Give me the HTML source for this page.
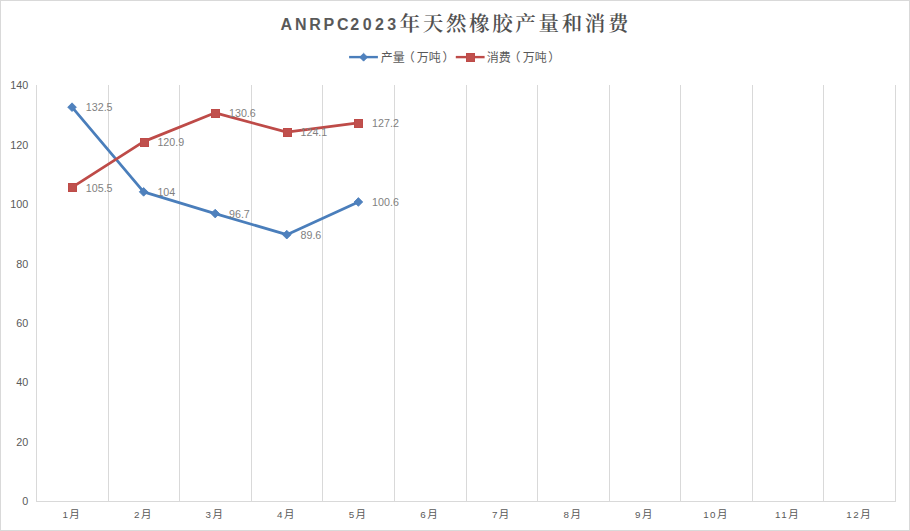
<!DOCTYPE html>
<html lang="zh-CN">
<head>
<meta charset="utf-8">
<title>ANRPC2023年天然橡胶产量和消费</title>
<style>
html,body{margin:0;padding:0;background:#fff;}
body{width:910px;height:531px;overflow:hidden;position:relative;font-family:"Liberation Sans","Noto Sans CJK SC",sans-serif;}
#chart{position:absolute;left:0;top:0;width:910px;height:531px;background:#fff;}
svg{position:absolute;left:0;top:0;}
.t{position:absolute;white-space:nowrap;line-height:1;}
.la{color:#595959;font-weight:bold;font-family:"Liberation Sans",sans-serif;font-size:16px;letter-spacing:2.77px;left:280.6px;top:16.5px;}
.la b{letter-spacing:3.4px;margin-left:-1px;}
.cj{color:#505050;font-weight:600;font-family:"Liberation Serif","Noto Serif CJK SC",serif;font-size:20.5px;letter-spacing:2.65px;left:399.6px;top:13.6px;}
.yl{color:#595959;font-size:10.8px;width:28px;text-align:right;}
.xl{color:#595959;font-size:10.5px;text-align:center;width:60px;}
.xl b{font-weight:normal;font-size:9.8px;letter-spacing:1.45px;}
.dl{color:#7f7f7f;font-size:10.7px;}
.lg{color:#595959;font-size:12px;}
.lg i{font-style:normal;position:relative;}
.lg .po{left:-2.2px;}
.lg .pc{left:1.6px;}
</style>
</head>
<body>
<div id="chart">
<svg width="910" height="531" viewBox="0 0 910 531">
<rect x="0.5" y="0.5" width="909" height="530" fill="none" stroke="#d9d9d9" stroke-width="1"/>
<line x1="36.5" y1="85" x2="36.5" y2="502" stroke="#d9d9d9" stroke-width="1"/>
<line x1="108.5" y1="85" x2="108.5" y2="502" stroke="#d9d9d9" stroke-width="1"/>
<line x1="179.5" y1="85" x2="179.5" y2="502" stroke="#d9d9d9" stroke-width="1"/>
<line x1="251.5" y1="85" x2="251.5" y2="502" stroke="#d9d9d9" stroke-width="1"/>
<line x1="322.5" y1="85" x2="322.5" y2="502" stroke="#d9d9d9" stroke-width="1"/>
<line x1="394.5" y1="85" x2="394.5" y2="502" stroke="#d9d9d9" stroke-width="1"/>
<line x1="466.5" y1="85" x2="466.5" y2="502" stroke="#d9d9d9" stroke-width="1"/>
<line x1="537.5" y1="85" x2="537.5" y2="502" stroke="#d9d9d9" stroke-width="1"/>
<line x1="609.5" y1="85" x2="609.5" y2="502" stroke="#d9d9d9" stroke-width="1"/>
<line x1="680.5" y1="85" x2="680.5" y2="502" stroke="#d9d9d9" stroke-width="1"/>
<line x1="752.5" y1="85" x2="752.5" y2="502" stroke="#d9d9d9" stroke-width="1"/>
<line x1="823.5" y1="85" x2="823.5" y2="502" stroke="#d9d9d9" stroke-width="1"/>
<line x1="895.5" y1="85" x2="895.5" y2="502" stroke="#d9d9d9" stroke-width="1"/>
<line x1="36" y1="501.5" x2="896" y2="501.5" stroke="#d9d9d9" stroke-width="1"/>
<g transform="translate(-0.5,-0.5)">
<polyline points="72.54,107.69 144.12,192.37 215.71,214.06 287.29,235.16 358.88,202.47" fill="none" stroke="#4a7ebb" stroke-width="2.75" stroke-linejoin="round" stroke-linecap="round"/>
<path d="M72.54 103.34L76.89 107.69L72.54 112.04L68.19 107.69Z" fill="#4f81bd" stroke="#4a7ebb" stroke-width="0.8" stroke-linejoin="miter"/>
<path d="M144.12 188.02L148.47 192.37L144.12 196.72L139.78 192.37Z" fill="#4f81bd" stroke="#4a7ebb" stroke-width="0.8" stroke-linejoin="miter"/>
<path d="M215.71 209.71L220.06 214.06L215.71 218.41L211.36 214.06Z" fill="#4f81bd" stroke="#4a7ebb" stroke-width="0.8" stroke-linejoin="miter"/>
<path d="M287.29 230.81L291.64 235.16L287.29 239.51L282.94 235.16Z" fill="#4f81bd" stroke="#4a7ebb" stroke-width="0.8" stroke-linejoin="miter"/>
<path d="M358.88 198.12L363.23 202.47L358.88 206.82L354.52 202.47Z" fill="#4f81bd" stroke="#4a7ebb" stroke-width="0.8" stroke-linejoin="miter"/>
<polyline points="72.54,187.91 144.12,142.15 215.71,113.33 287.29,132.65 358.88,123.43" fill="none" stroke="#be4b48" stroke-width="2.75" stroke-linejoin="round" stroke-linecap="round"/>
</g>
<rect x="68.5" y="183.5" width="8" height="8" fill="#c0504d" stroke="#be4b48" stroke-width="1"/>
<rect x="140.5" y="138.5" width="8" height="8" fill="#c0504d" stroke="#be4b48" stroke-width="1"/>
<rect x="211.5" y="109.5" width="8" height="8" fill="#c0504d" stroke="#be4b48" stroke-width="1"/>
<rect x="283.5" y="128.5" width="8" height="8" fill="#c0504d" stroke="#be4b48" stroke-width="1"/>
<rect x="354.5" y="119.5" width="8" height="8" fill="#c0504d" stroke="#be4b48" stroke-width="1"/>
<line x1="349.1" y1="57.1" x2="377.9" y2="57.1" stroke="#4a7ebb" stroke-width="2.4"/>
<path d="M363.60 53.25L367.55 57.20L363.60 61.15L359.65 57.20Z" fill="#4f81bd" stroke="#4a7ebb" stroke-width="0.8" stroke-linejoin="miter"/>
<line x1="455.8" y1="57.1" x2="484.6" y2="57.1" stroke="#be4b48" stroke-width="2.4"/>
<rect x="466.5" y="53.5" width="8" height="8" fill="#c0504d" stroke="#be4b48" stroke-width="1"/>
</svg>
<div class="t la">ANRPC<b>2023</b></div><div class="t cj">年天然橡胶产量和消费</div>
<div class="t yl" style="left:0.3px;top:496.2px">0</div>
<div class="t yl" style="left:0.3px;top:436.8px">20</div>
<div class="t yl" style="left:0.3px;top:377.3px">40</div>
<div class="t yl" style="left:0.3px;top:317.9px">60</div>
<div class="t yl" style="left:0.3px;top:258.5px">80</div>
<div class="t yl" style="left:0.3px;top:199.1px">100</div>
<div class="t yl" style="left:0.3px;top:139.6px">120</div>
<div class="t yl" style="left:0.3px;top:80.2px">140</div>
<div class="t xl" style="left:41.1px;top:508.6px"><b>1</b>月</div>
<div class="t xl" style="left:112.7px;top:508.6px"><b>2</b>月</div>
<div class="t xl" style="left:184.3px;top:508.6px"><b>3</b>月</div>
<div class="t xl" style="left:255.8px;top:508.6px"><b>4</b>月</div>
<div class="t xl" style="left:327.4px;top:508.6px"><b>5</b>月</div>
<div class="t xl" style="left:399.0px;top:508.6px"><b>6</b>月</div>
<div class="t xl" style="left:470.6px;top:508.6px"><b>7</b>月</div>
<div class="t xl" style="left:542.2px;top:508.6px"><b>8</b>月</div>
<div class="t xl" style="left:613.8px;top:508.6px"><b>9</b>月</div>
<div class="t xl" style="left:685.3px;top:508.6px"><b>10</b>月</div>
<div class="t xl" style="left:756.9px;top:508.6px"><b>11</b>月</div>
<div class="t xl" style="left:828.5px;top:508.6px"><b>12</b>月</div>
<div class="t dl" style="left:85.8px;top:102.4px">132.5</div>
<div class="t dl" style="left:157.4px;top:187.1px">104</div>
<div class="t dl" style="left:229.0px;top:208.8px">96.7</div>
<div class="t dl" style="left:300.5px;top:229.9px">89.6</div>
<div class="t dl" style="left:372.1px;top:197.2px">100.6</div>
<div class="t dl" style="left:85.8px;top:182.6px">105.5</div>
<div class="t dl" style="left:157.4px;top:136.9px">120.9</div>
<div class="t dl" style="left:229.0px;top:108.0px">130.6</div>
<div class="t dl" style="left:300.5px;top:127.3px">124.1</div>
<div class="t dl" style="left:372.1px;top:118.1px">127.2</div>
<div class="t lg" style="left:380.8px;top:52px">产量<i class="po">（</i>万吨<i class="pc">）</i></div>
<div class="t lg" style="left:486.7px;top:52px">消费<i class="po">（</i>万吨<i class="pc">）</i></div>
</div>
</body>
</html>
